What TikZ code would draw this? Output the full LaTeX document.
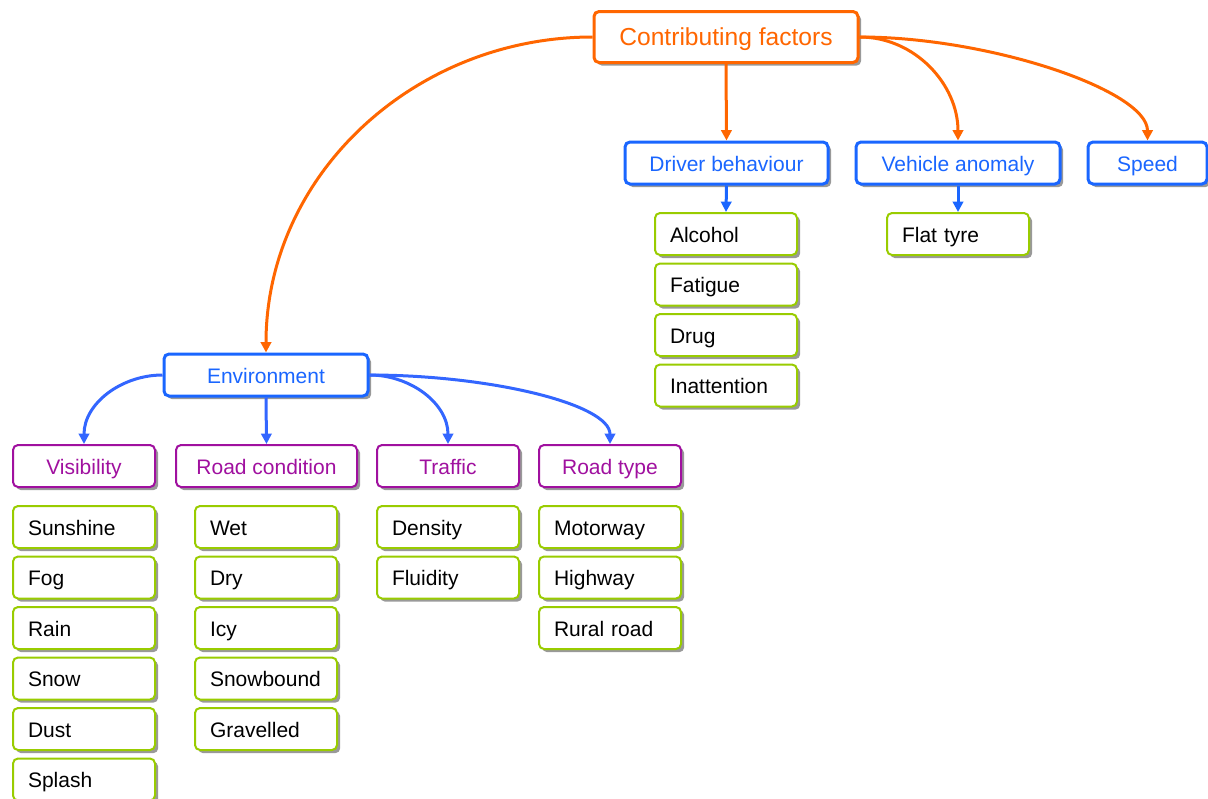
\documentclass[tikz,border=0pt]{standalone}
\usepackage{fontspec}
\setmainfont{Liberation Sans}
\usetikzlibrary{shadows, arrows.meta}
\definecolor{FactorOrange}{HTML}{FF6600}
\definecolor{FactorBlue}{HTML}{1A66FF}
\definecolor{EnvBlue}{HTML}{3366FF}
\definecolor{FactorPurple}{HTML}{A0109F}
\definecolor{FactorGreen}{HTML}{99CC00}

\begin{document}
\begin{tikzpicture}[x=0.5pt, y=-0.5pt,
    basebox/.style={rounded corners=2.5pt, fill=white, minimum height=21pt,
        font=\fontsize{10.5}{12}\selectfont, text height=9pt, text depth=1pt,
        drop shadow={shadow xshift=1.6pt, shadow yshift=-1.6pt, fill=black!40, opacity=1}},
    topbox/.style={basebox, draw=FactorOrange, text=FactorOrange, line width=1.5pt,
        minimum height=25.5pt, font=\fontsize{12.3}{14}\selectfont,
        text height=10.5pt, text depth=2.5pt},
    midbox/.style={basebox, draw=FactorBlue, text=FactorBlue, line width=1.5pt},
    catbox/.style={basebox, draw=FactorPurple, text=FactorPurple, line width=1pt},
    leafbox/.style={basebox, draw=FactorGreen, text=black, line width=1pt,
        text width=56pt, inner xsep=7.5pt, align=left},
    orangearrow/.style={draw=FactorOrange, line width=1.5pt, -{Triangle[length=5.2pt, width=5.2pt]}},
    bluearrow/.style={draw=EnvBlue, line width=1.5pt, -{Triangle[length=5.2pt, width=5.2pt]}}
]
\useasboundingbox (0,0) rectangle (1208,798);

\node[topbox, minimum width=132pt] (factors) at (726,37) {Contributing factors};

\node[midbox, minimum width=101.5pt] (driver) at (726.5,163) {Driver behaviour};
\node[midbox, minimum width=102pt] (vehicle) at (958,163) {Vehicle anomaly};
\node[midbox, minimum width=59.5pt] (speed) at (1147.5,163) {Speed};
\node[midbox, minimum width=102pt] (environment) at (266,375) {Environment};

\node[catbox, minimum width=71pt] (visibility) at (84,466) {Visibility};
\node[catbox, minimum width=90.5pt] (roadcond) at (266.5,466) {Road condition};
\node[catbox, minimum width=71pt] (traffic) at (448,466) {Traffic};
\node[catbox, minimum width=71pt] (roadtype) at (610,466) {Road type};

\foreach \name [count=\i] in {Alcohol, Fatigue, Drug, Inattention}
    \node[leafbox] (driver-\i) at (726,{234+50.5*(\i-1)}) {\name};
\node[leafbox] (vehicle-1) at (958,234) {Flat tyre};

\foreach \name [count=\i] in {Sunshine, Fog, Rain, Snow, Dust, Splash}
    \node[leafbox] (visibility-\i) at (84,{527+50.5*(\i-1)}) {\name};
\foreach \name [count=\i] in {Wet, Dry, Icy, Snowbound, Gravelled}
    \node[leafbox] (roadcond-\i) at (266,{527+50.5*(\i-1)}) {\name};
\foreach \name [count=\i] in {Density, Fluidity}
    \node[leafbox] (traffic-\i) at (448,{527+50.5*(\i-1)}) {\name};
\foreach \name [count=\i] in {Motorway, Highway, Rural road}
    \node[leafbox] (roadtype-\i) at (610,{527+50.5*(\i-1)}) {\name};

\draw[orangearrow] (factors.west) to[out=180, in=90] (environment.north);
\draw[orangearrow] (factors.south) -- (driver.north);
\draw[orangearrow] (factors.east) to[out=0, in=90] (vehicle.north);
\draw[orangearrow] (factors.east) .. controls +(130,0) and +(0,-50) .. (speed.north);

\draw[bluearrow, draw=FactorBlue] (driver.south) -- (driver-1.north);
\draw[bluearrow, draw=FactorBlue] (vehicle.south) -- (vehicle-1.north);

\draw[bluearrow] (environment.west) to[out=180, in=90] (visibility.north);
\draw[bluearrow] (environment.south) -- (roadcond.north);
\draw[bluearrow] (environment.east) to[out=0, in=90] (traffic.north);
\draw[bluearrow] (environment.east) .. controls +(120,0) and +(0,-40) .. (roadtype.north);
\end{tikzpicture}
\end{document}
